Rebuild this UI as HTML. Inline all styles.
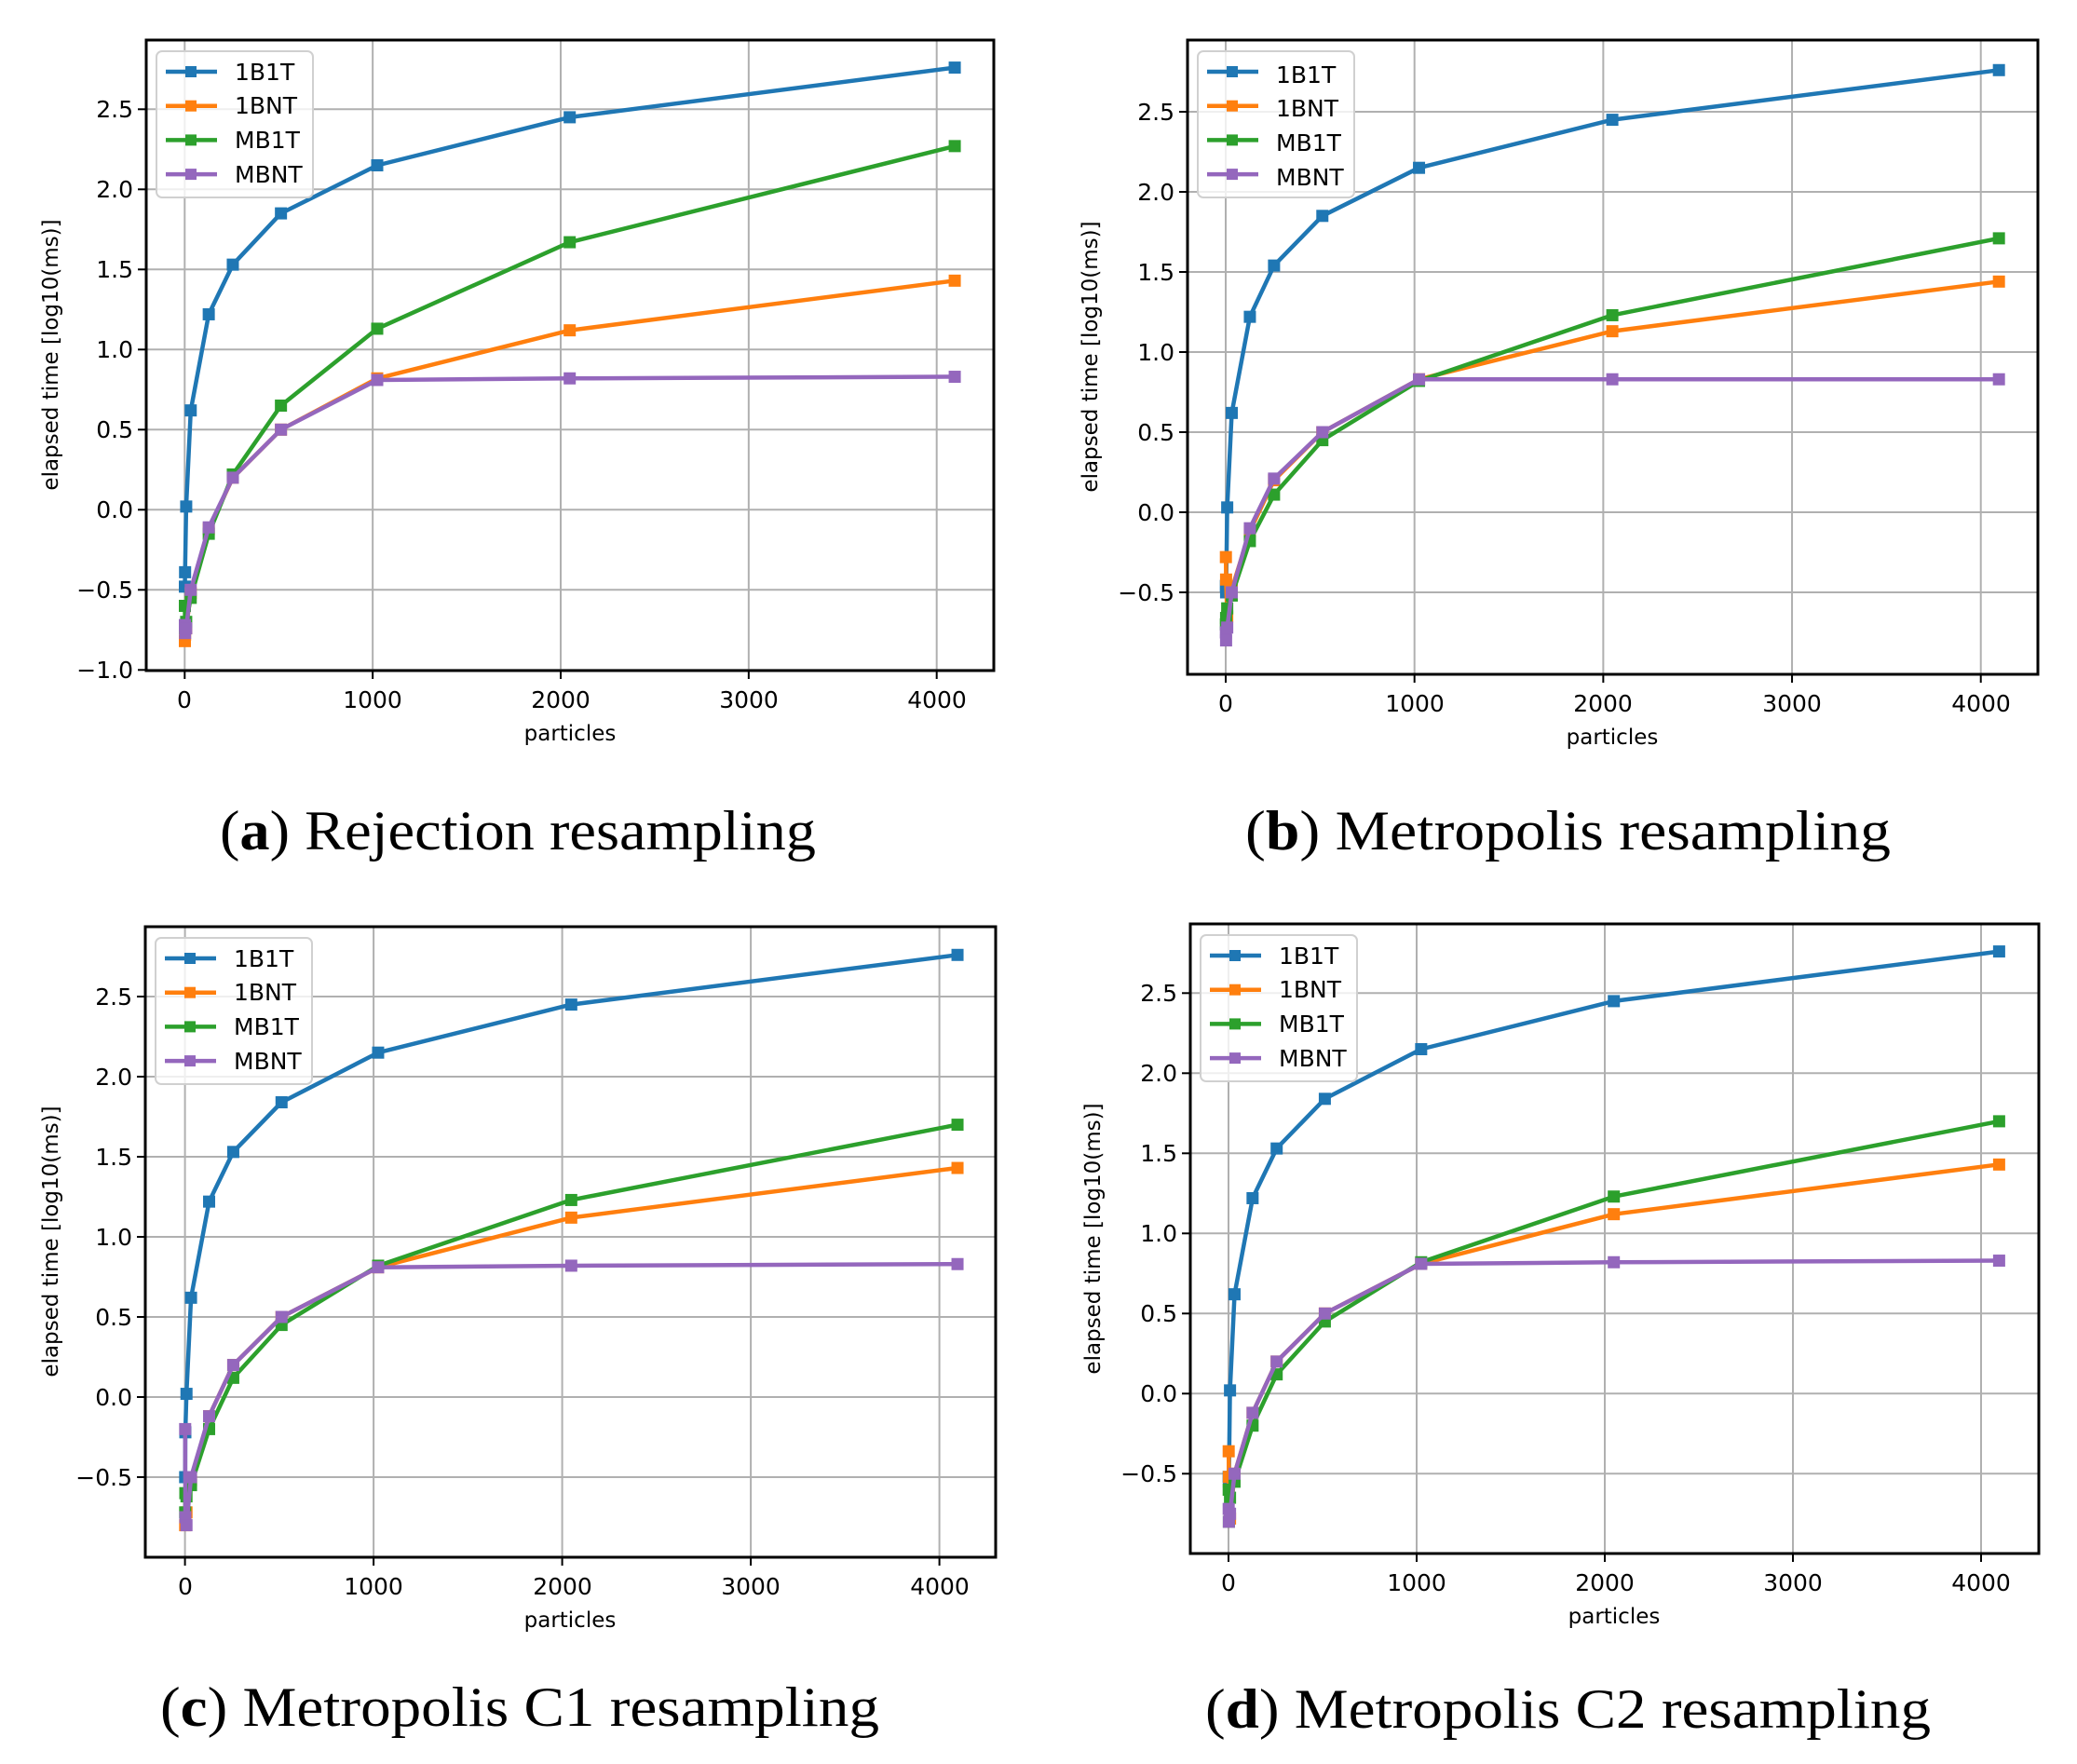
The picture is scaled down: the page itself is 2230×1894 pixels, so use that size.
<!DOCTYPE html>
<html><head><meta charset="utf-8"><style>
html,body{margin:0;padding:0;background:#fff}
svg{display:block}
.t{font-family:"DejaVu Sans","Liberation Sans",sans-serif;font-size:25px;fill:#000}
.yl{font-family:"DejaVu Sans","Liberation Sans",sans-serif;font-size:23px;fill:#000}
.cap{font-family:"Liberation Serif",serif;font-size:60px;fill:#000}
</style></head><body>
<svg id="s" width="2230" height="1894" viewBox="0 0 2230 1894" xmlns="http://www.w3.org/2000/svg">
<g id="under"></g>
<!-- Panel a text -->
<g class="t" text-anchor="end">
<text x="143" y="126">2.5</text><text x="143" y="212">2.0</text><text x="143" y="298">1.5</text><text x="143" y="384">1.0</text><text x="143" y="470">0.5</text><text x="143" y="556">0.0</text><text x="143" y="642">−0.5</text><text x="143" y="728">−1.0</text>
</g>
<g class="t" text-anchor="middle">
<text x="198" y="760">0</text><text x="400" y="760">1000</text><text x="602" y="760">2000</text><text x="804" y="760">3000</text><text x="1006" y="760">4000</text>
<text x="612" y="795" class="yl">particles</text>
</g>
<text class="yl" text-anchor="middle" transform="translate(62,381) rotate(-90)">elapsed time [log10(ms)]</text>
<text class="cap" x="236" y="912" textLength="640" lengthAdjust="spacingAndGlyphs">(<tspan font-weight="bold">a</tspan>) Rejection resampling</text>
<!-- Panel b text -->
<g class="t" text-anchor="end">
<text x="1261" y="129">2.5</text><text x="1261" y="215">2.0</text><text x="1261" y="301">1.5</text><text x="1261" y="387">1.0</text><text x="1261" y="473">0.5</text><text x="1261" y="559">0.0</text><text x="1261" y="645">−0.5</text>
</g>
<g class="t" text-anchor="middle">
<text x="1316" y="764">0</text><text x="1519" y="764">1000</text><text x="1721" y="764">2000</text><text x="1924" y="764">3000</text><text x="2127" y="764">4000</text>
<text x="1731" y="799" class="yl">particles</text>
</g>
<text class="yl" text-anchor="middle" transform="translate(1178,383) rotate(-90)">elapsed time [log10(ms)]</text>
<text class="cap" x="1337" y="912" textLength="693" lengthAdjust="spacingAndGlyphs">(<tspan font-weight="bold">b</tspan>) Metropolis resampling</text>
<!-- Panel c text -->
<g class="t" text-anchor="end">
<text x="142" y="1079">2.5</text><text x="142" y="1165">2.0</text><text x="142" y="1251">1.5</text><text x="142" y="1337">1.0</text><text x="142" y="1423">0.5</text><text x="142" y="1509">0.0</text><text x="142" y="1595">−0.5</text>
</g>
<g class="t" text-anchor="middle">
<text x="199" y="1712">0</text><text x="401" y="1712">1000</text><text x="604" y="1712">2000</text><text x="806" y="1712">3000</text><text x="1009" y="1712">4000</text>
<text x="612" y="1747" class="yl">particles</text>
</g>
<text class="yl" text-anchor="middle" transform="translate(62,1333) rotate(-90)">elapsed time [log10(ms)]</text>
<text class="cap" x="172" y="1853" textLength="772" lengthAdjust="spacingAndGlyphs">(<tspan font-weight="bold">c</tspan>) Metropolis C1 resampling</text>
<!-- Panel d text -->
<g class="t" text-anchor="end">
<text x="1264" y="1075">2.5</text><text x="1264" y="1161">2.0</text><text x="1264" y="1247">1.5</text><text x="1264" y="1333">1.0</text><text x="1264" y="1419">0.5</text><text x="1264" y="1505">0.0</text><text x="1264" y="1591">−0.5</text>
</g>
<g class="t" text-anchor="middle">
<text x="1319" y="1708">0</text><text x="1521" y="1708">1000</text><text x="1723" y="1708">2000</text><text x="1925" y="1708">3000</text><text x="2127" y="1708">4000</text>
<text x="1733" y="1743" class="yl">particles</text>
</g>
<text class="yl" text-anchor="middle" transform="translate(1181,1330) rotate(-90)">elapsed time [log10(ms)]</text>
<text class="cap" x="1294" y="1855" textLength="779" lengthAdjust="spacingAndGlyphs">(<tspan font-weight="bold">d</tspan>) Metropolis C2 resampling</text>
<g id="over"></g>
<!-- legends text -->
<g class="t">
<text x="252" y="86">1B1T</text><text x="252" y="122">1BNT</text><text x="252" y="159">MB1T</text><text x="252" y="196">MBNT</text>
<text x="1370" y="89">1B1T</text><text x="1370" y="125">1BNT</text><text x="1370" y="162">MB1T</text><text x="1370" y="199">MBNT</text>
<text x="251" y="1038">1B1T</text><text x="251" y="1074">1BNT</text><text x="251" y="1111">MB1T</text><text x="251" y="1148">MBNT</text>
<text x="1373" y="1035">1B1T</text><text x="1373" y="1071">1BNT</text><text x="1373" y="1108">MB1T</text><text x="1373" y="1145">MBNT</text>
</g>
</svg>
<script>
(function(){
var NS="http://www.w3.org/2000/svg";
var under=document.getElementById('under');
function el(p,n,a){var e=document.createElementNS(NS,n);for(var k in a)e.setAttribute(k,a[k]);p.appendChild(e);return e;}
var C=['#1f77b4','#ff7f0e','#2ca02c','#9467bd'];
var X=[1,2,8,32,128,256,512,1024,2048,4096];
var P=[
{L:157,R:1067,T:43,B:720,x0:198.3,kx:0.20185,y2:203.3,yt:[-1,-0.5,0,0.5,1,1.5,2,2.5],
 s:[[-0.48,-0.39,0.02,0.62,1.22,1.53,1.85,2.15,2.45,2.76],
    [-0.82,-0.78,-0.74,-0.52,-0.12,0.2,0.5,0.82,1.12,1.43],
    [-0.6,-0.74,-0.7,-0.55,-0.15,0.22,0.65,1.13,1.67,2.27],
    [-0.72,-0.77,-0.74,-0.5,-0.11,0.2,0.5,0.81,0.82,0.83]]},
{L:1275,R:2188,T:43,B:724,x0:1316,kx:0.20268,y2:206,yt:[-0.5,0,0.5,1,1.5,2,2.5],
 s:[[-0.46,-0.5,0.03,0.62,1.22,1.54,1.85,2.15,2.45,2.76],
    [-0.28,-0.42,-0.65,-0.48,-0.12,0.2,0.5,0.83,1.13,1.44],
    [-0.7,-0.66,-0.6,-0.52,-0.18,0.11,0.45,0.82,1.23,1.71],
    [-0.75,-0.8,-0.72,-0.5,-0.1,0.21,0.5,0.83,0.83,0.83]]},
{L:156,R:1069,T:995,B:1672,x0:198.6,kx:0.2025,y2:1156,yt:[-0.5,0,0.5,1,1.5,2,2.5],
 s:[[-0.5,-0.22,0.02,0.62,1.22,1.53,1.84,2.15,2.45,2.76],
    [-0.8,-0.78,-0.72,-0.52,-0.12,0.2,0.5,0.81,1.12,1.43],
    [-0.72,-0.6,-0.62,-0.55,-0.2,0.12,0.45,0.82,1.23,1.70],
    [-0.2,-0.75,-0.8,-0.5,-0.12,0.2,0.5,0.81,0.82,0.83]]},
{L:1278,R:2189,T:992,B:1668,x0:1319,kx:0.202,y2:1152.3,yt:[-0.5,0,0.5,1,1.5,2,2.5],
 s:[[-0.52,-0.55,0.02,0.62,1.22,1.53,1.84,2.15,2.45,2.76],
    [-0.36,-0.52,-0.78,-0.5,-0.12,0.2,0.5,0.81,1.12,1.43],
    [-0.6,-0.8,-0.65,-0.55,-0.2,0.12,0.45,0.82,1.23,1.70],
    [-0.72,-0.8,-0.75,-0.5,-0.12,0.2,0.5,0.81,0.82,0.83]]}
];
P.forEach(function(p){
  var fx=function(x){return p.x0+x*p.kx;}, fy=function(v){return p.y2-(v-2)*172;};
  var g=el(under,'g',{});
  for(var i=0;i<=4;i++){var x=fx(i*1000);el(g,'line',{x1:x,x2:x,y1:p.T,y2:p.B,stroke:'#b0b0b0','stroke-width':2});
    el(g,'line',{x1:x,x2:x,y1:p.B,y2:p.B+9,stroke:'#000','stroke-width':2});}
  p.yt.forEach(function(v){var y=fy(v);el(g,'line',{x1:p.L,x2:p.R,y1:y,y2:y,stroke:'#b0b0b0','stroke-width':2});
    el(g,'line',{x1:p.L-9,x2:p.L,y1:y,y2:y,stroke:'#000','stroke-width':2});});
  p.s.forEach(function(d,k){
    var pts=X.map(function(x,i){return fx(x).toFixed(1)+','+fy(d[i]).toFixed(1);}).join(' ');
    el(g,'polyline',{points:pts,fill:'none',stroke:C[k],'stroke-width':4.5,'stroke-linejoin':'round'});
    X.forEach(function(x,i){el(g,'rect',{x:fx(x)-6.5,y:fy(d[i])-6.5,width:13,height:13,fill:C[k]});});
  });
  el(g,'rect',{x:p.L,y:p.T,width:p.R-p.L,height:p.B-p.T,fill:'none',stroke:'#000','stroke-width':3});
  var lx=p.L+11, ly=p.T+12;
  el(g,'rect',{x:lx,y:ly,width:168,height:157,rx:6,fill:'rgba(255,255,255,0.8)',stroke:'#d0d0d0','stroke-width':2});
  for(var k=0;k<4;k++){var y=p.T+34+k*36.7;
    el(g,'line',{x1:p.L+21,x2:p.L+76,y1:y,y2:y,stroke:C[k],'stroke-width':4.5});
    el(g,'rect',{x:p.L+42,y:y-6,width:12,height:12,fill:C[k]});}
});
})();
</script>
</body></html>
